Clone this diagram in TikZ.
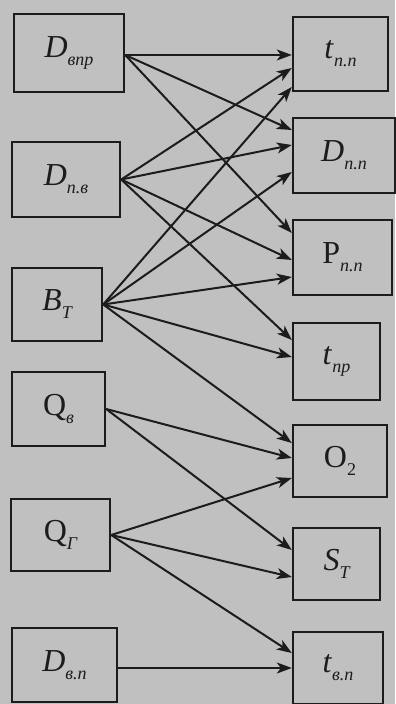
\documentclass[tikz,border=0pt]{standalone}
\usepackage{fontspec}
\setmainfont{Liberation Serif}
\usepackage{tikz}
\usetikzlibrary{arrows.meta}
\definecolor{scangray}{RGB}{192,192,192}
\definecolor{inkdark}{RGB}{28,28,28}
\newcommand{\symsub}[2]{#1\raisebox{-4pt}{\fontsize{9}{10}\selectfont\itshape #2}}

\begin{document}
\begin{tikzpicture}[x=0.5pt, y=-0.5pt,
  box/.style={rectangle, draw=inkdark, line width=1.2pt, fill=scangray, inner sep=0pt,
              font=\fontsize{16}{18}\selectfont, text=inkdark},
  arr/.style={draw=inkdark, line width=1pt, -{Stealth[length=7.5pt, width=5.5pt, inset=2pt]}}]
\fill[scangray] (0,0) rectangle (395,704);
\useasboundingbox (0,0) rectangle (395,704);
\node[box, minimum width=55pt, minimum height=39pt] (dvpr) at (69,53) {\symsub{\textit{D}}{впр}};
\node[box, minimum width=54pt, minimum height=37.5pt] (dpv) at (66,179.5) {\symsub{\textit{D}}{п.в}};
\node[box, minimum width=45pt, minimum height=36.5pt] (bt) at (57,304.5) {\symsub{\textit{B}}{Т}};
\node[box, minimum width=46.5pt, minimum height=37pt] (qv) at (58.5,409) {\symsub{Q}{в}};
\node[box, minimum width=49.5pt, minimum height=36pt] (qg) at (60.5,535) {\symsub{Q}{Г}};
\node[box, minimum width=52.5pt, minimum height=37pt] (dvp) at (64.5,665) {\symsub{\textit{D}}{в.п}};
\node[box, minimum width=47.5pt, minimum height=37pt] (tpp) at (340.5,54) {\symsub{\textit{t}}{п.п}};
\node[box, minimum width=51pt, minimum height=37.5pt] (dpp) at (344,155.5) {\symsub{\textit{D}}{п.п}};
\node[box, minimum width=49.5pt, minimum height=37.5pt] (ppp) at (342.5,257.5) {\symsub{Р}{п.п}};
\node[box, minimum width=43.5pt, minimum height=38.5pt] (tpr) at (336.5,361.5) {\symsub{\textit{t}}{пр}};
\node[box, minimum width=47pt, minimum height=36pt] (otwo) at (340,461) {\symsub{O}{\upshape 2}};
\node[box, minimum width=43.5pt, minimum height=36pt] (st) at (336.5,564) {\symsub{\textit{S}}{Т}};
\node[box, minimum width=45pt, minimum height=36pt] (tvp) at (338,668) {\symsub{\textit{t}}{в.п}};
\draw[arr] ([yshift=-1pt]dvpr.east) -- ([yshift=-0.5pt]tpp.west);
\draw[arr] ([yshift=-1pt]dvpr.east) -- ([yshift=12.75pt]dpp.west);
\draw[arr] ([yshift=-1pt]dvpr.east) -- ([yshift=12.25pt]ppp.west);
\draw[arr] (dpv.east) -- ([yshift=-7pt]tpp.west);
\draw[arr] (dpv.east) -- ([yshift=5.25pt]dpp.west);
\draw[arr] (dpv.east) -- ([yshift=-1.25pt]ppp.west);
\draw[arr] (dpv.east) -- ([yshift=10.75pt]tpr.west);
\draw[arr] (bt.east) -- ([yshift=-16.5pt]tpp.west);
\draw[arr] (bt.east) -- ([yshift=-8.25pt]dpp.west);
\draw[arr] (bt.east) -- ([yshift=-9.75pt]ppp.west);
\draw[arr] (bt.east) -- ([yshift=2.25pt]tpr.west);
\draw[arr] (bt.east) -- ([yshift=9pt]otwo.west);
\draw[arr] (qv.east) -- ([yshift=1.5pt]otwo.west);
\draw[arr] (qv.east) -- ([yshift=7pt]st.west);
\draw[arr] (qg.east) -- ([yshift=-8.5pt]otwo.west);
\draw[arr] (qg.east) -- ([yshift=-6.5pt]st.west);
\draw[arr] (qg.east) -- ([yshift=7.5pt]tvp.west);
\draw[arr] (dvp.east |- tvp.west) -- (tvp.west);
\end{tikzpicture}
\end{document}
